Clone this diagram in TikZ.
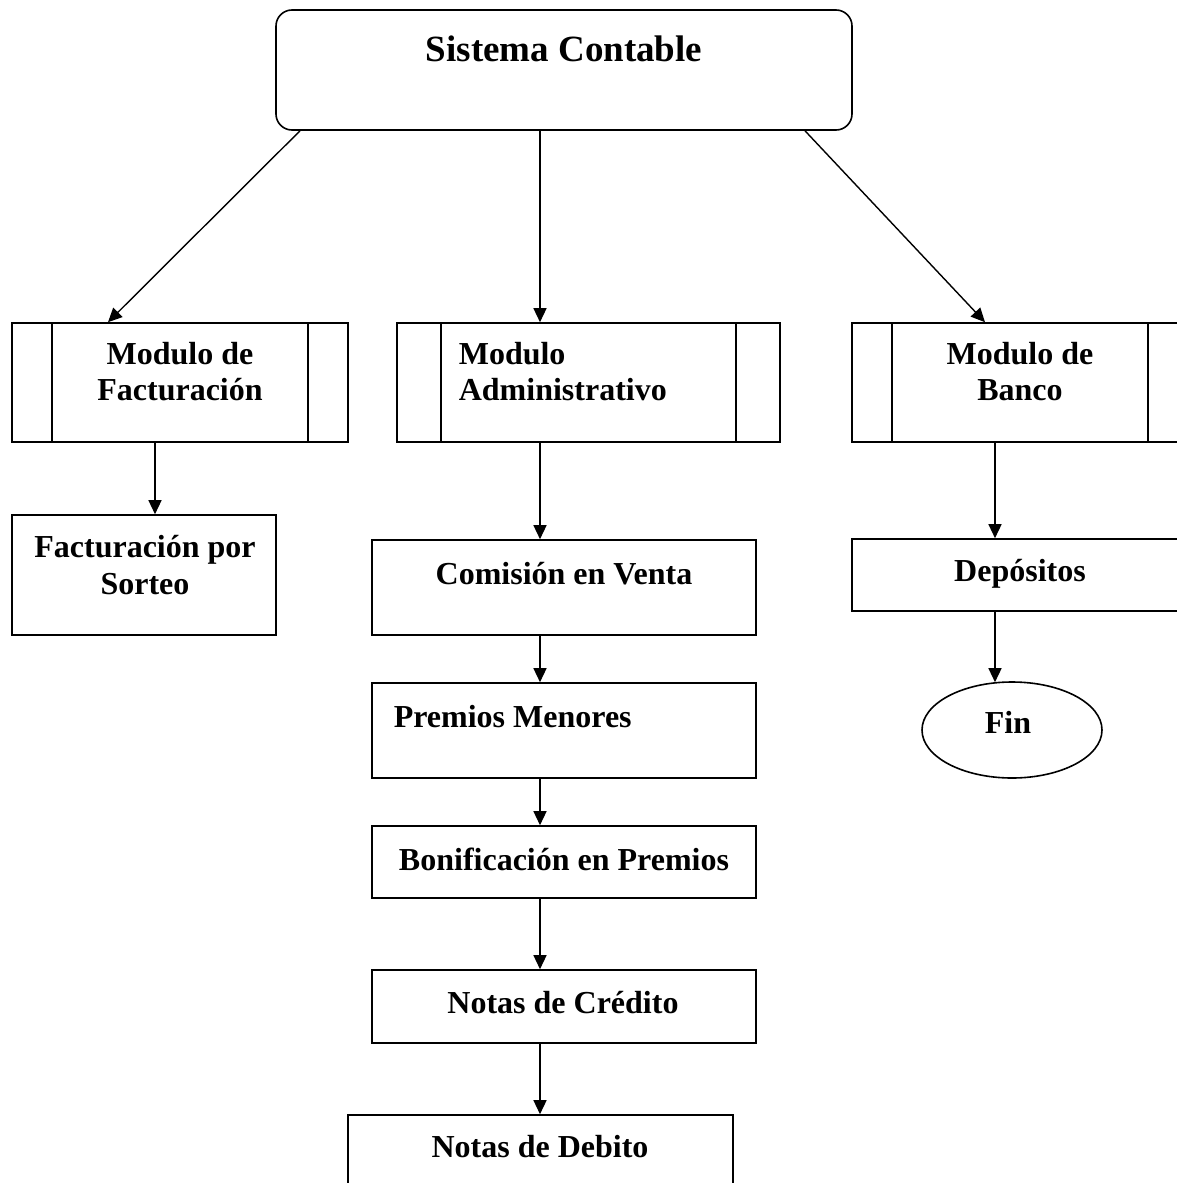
\documentclass[tikz,border=0pt]{standalone}
\usepackage{fontspec}
\setmainfont{Liberation Serif}
\usetikzlibrary{arrows.meta,shapes.geometric}
\begin{document}
\begin{tikzpicture}[x=1pt,y=-1pt,
  line width=1.6pt,
  box/.style={draw,rectangle,inner sep=0pt},
  txt/.style={inner sep=0pt,anchor=base,font=\fontsize{32}{36.5}\selectfont\bfseries},
  link/.style={-{Triangle[length=14pt,width=13pt]}, line width=1.4pt}]
\useasboundingbox (0,0) rectangle (1177,1183);
\begin{scope}
\clip (0,0) rectangle (1177,1183);

% main system box
\node[box,rounded corners=16pt,minimum width=576pt,minimum height=120pt] (top) at (564,70) {};
\node[txt,font=\fontsize{37}{42}\selectfont\bfseries] (ttop) at (564,61) {Sistema Contable};

% module boxes (predefined-process style)
\node[box,minimum width=336pt,minimum height=119pt] (mf) at (180,382.5) {};
\node[box,minimum width=383pt,minimum height=119pt] (ma) at (588.5,382.5) {};
\node[box,minimum width=336pt,minimum height=119pt] (mb) at (1020,382.5) {};
\foreach \m/\d in {mf/41,ma/45,mb/41}{
  \draw ([xshift=\d pt]\m.north west) -- ([xshift=\d pt]\m.south west);
  \draw ([xshift=-\d pt]\m.north east) -- ([xshift=-\d pt]\m.south east);
}
% two-line labels: base anchor sits on the last line
\node[txt,align=center] (tmf) at (180,400.5) {Modulo de\\Facturación};
\node[txt,align=left,anchor=base west] (tma) at (458,400.5) {Modulo\\Administrativo};
\node[txt,align=center] (tmb) at (1020,400.5) {Modulo de\\Banco};

% billing branch
\node[box,minimum width=264pt,minimum height=120pt] (fs) at (144,575) {};
\node[txt,align=center] (tfs) at (145,594) {Facturación por\\Sorteo};

% administrative branch
\node[box,minimum width=384pt,minimum height=95pt] (cv) at (564,587.5) {};
\node[txt] (tcv) at (564,584) {Comisión en Venta};
\node[box,minimum width=384pt,minimum height=95pt] (pm) at (564,730.5) {};
\node[txt,anchor=base west] (tpm) at (393,727) {Premios Menores};
\node[box,minimum width=384pt,minimum height=72pt] (bp) at (564,862) {};
\node[txt] (tbp) at (564,870) {Bonificación en Premios};
\node[box,minimum width=384pt,minimum height=73pt] (nc) at (564,1006.5) {};
\node[txt] (tnc) at (563,1013) {Notas de Crédito};
\node[box,minimum width=385pt,minimum height=75pt] (nd) at (540.5,1152.5) {};
\node[txt] (tnd) at (540,1157) {Notas de Debito};

% bank branch
\node[box,minimum width=336pt,minimum height=72pt] (dp) at (1020,575) {};
\node[txt] (tdp) at (1020,581) {Depósitos};
\node[draw,ellipse,inner sep=0pt,minimum width=180pt,minimum height=96pt] (fin) at (1012,730) {};
\node[txt] (tfin) at (1008,733) {Fin};

% connectors
\draw[link] ([xshift=-264pt]top.south) -- ([xshift=-72pt]mf.north);
\draw[link] ([xshift=-24pt]top.south) -- ([xshift=-48.5pt]ma.north);
\draw[link] ([xshift=241pt]top.south) -- ([xshift=-35pt]mb.north);
\draw[link] ([xshift=-25pt]mf.south) -- ([xshift=11pt]fs.north);
\draw[link] ([xshift=-48.5pt]ma.south) -- ([xshift=-24pt]cv.north);
\draw[link] ([xshift=-24pt]cv.south) -- ([xshift=-24pt]pm.north);
\draw[link] ([xshift=-24pt]pm.south) -- ([xshift=-24pt]bp.north);
\draw[link] ([xshift=-24pt]bp.south) -- ([xshift=-24pt]nc.north);
\draw[link] ([xshift=-24pt]nc.south) -- ([xshift=-0.5pt]nd.north);
\draw[link] ([xshift=-25pt]mb.south) -- ([xshift=-25pt]dp.north);
\draw[link] ([xshift=-25pt]dp.south) -- ([xshift=-17pt,yshift=-1pt]fin.north);
\end{scope}
\end{tikzpicture}
\end{document}
